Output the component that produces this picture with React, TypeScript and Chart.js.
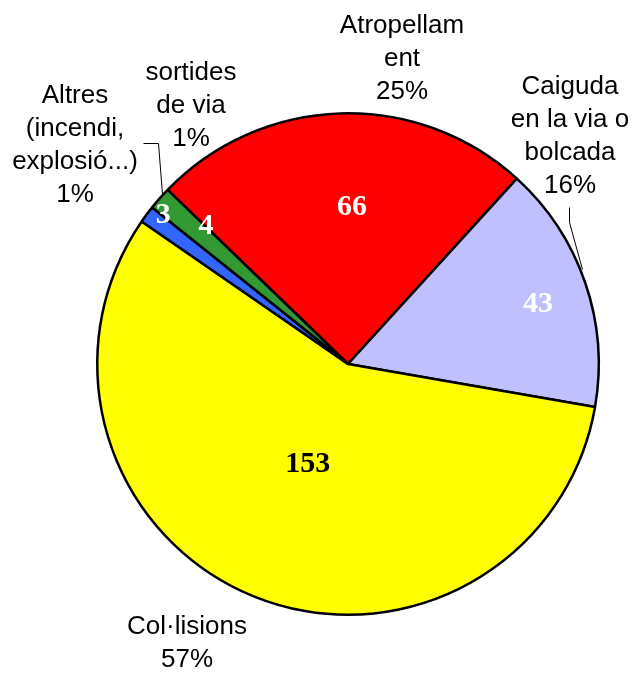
import React, { useEffect, useRef } from "react";
import { Chart, registerables } from "chart.js";

Chart.register(...registerables);

// ---- data ----
const categories: string[][] = [
  ["Atropellam", "ent"],
  ["Caiguda", "en la via o", "bolcada"],
  ["Col·lisions"],
  ["Altres", "(incendi,", "explosió...)"],
  ["sortides", "de via"],
];
const values: number[] = [66, 43, 153, 3, 4];
const sliceColors: string[] = ["#FF0000", "#C0C0FF", "#FFFF00", "#3366FF", "#339933"];
const valueTextColors: string[] = ["#FFFFFF", "#FFFFFF", "#000000", "#FFFFFF", "#FFFFFF"];

// ---- label placement (style) ----
// value labels: angle offset from slice mid (deg) and radius fraction
const valuePos = [
  { da: 3.3, f: 0.626 },
  { da: 1.4, f: 0.795 },
  { da: -0.4, f: 0.43 },
  { da: 2.2, f: 0.946 },
  { da: 2.9, f: 0.79 },
];
// outer labels: offset of first-line baseline centre from pie centre
const outerPos = [
  { dx: 54, dy: -331 },
  { dx: 222, dy: -270 },
  { dx: -161, dy: 270 },
  { dx: -273, dy: -261 },
  { dx: -157, dy: -284 },
];
// leader lines, relative to pie centre
const leaders: number[][][] = [
  [[221, -157], [221, -142], [234, -95]],
  [[-205, -221], [-190, -221], [-186, -170]],
];

const labelPlugin = {
  id: "pieLabels",
  afterDatasetsDraw(chart: any) {
    const ctx = chart.ctx as CanvasRenderingContext2D;
    const meta = chart.getDatasetMeta(0);
    const data = chart.data.datasets[0].data as number[];
    const total = data.reduce((a, b) => a + b, 0);
    let cx = 0, cy = 0;
    ctx.save();
    meta.data.forEach((arc: any, i: number) => {
      const p = arc.getProps(["x", "y", "startAngle", "endAngle", "outerRadius"], true);
      cx = p.x; cy = p.y;
      const mid = (p.startAngle + p.endAngle) / 2 + (valuePos[i].da * Math.PI) / 180;
      const r = p.outerRadius * valuePos[i].f;
      ctx.font = "bold 30px 'Liberation Serif', 'Times New Roman', serif";
      ctx.fillStyle = valueTextColors[i];
      ctx.textAlign = "center";
      ctx.textBaseline = "middle";
      ctx.fillText(String(data[i]), p.x + r * Math.cos(mid), p.y + r * Math.sin(mid));
    });
    // outer labels
    ctx.font = "26px 'Liberation Sans', Arial, sans-serif";
    ctx.fillStyle = "#000000";
    ctx.textAlign = "center";
    ctx.textBaseline = "alphabetic";
    const lh = 33;
    categories.forEach((lines, i) => {
      const pct = Math.round((data[i] / total) * 100) + "%";
      const all = [...lines, pct];
      all.forEach((t, k) => {
        ctx.fillText(t, cx + outerPos[i].dx, cy + outerPos[i].dy + k * lh);
      });
    });
    // leader lines
    ctx.strokeStyle = "#000000";
    ctx.lineWidth = 1;
    leaders.forEach((pts) => {
      ctx.beginPath();
      pts.forEach(([x, y], k) => {
        if (k === 0) ctx.moveTo(cx + x + 0.5, cy + y + 0.5);
        else ctx.lineTo(cx + x + 0.5, cy + y + 0.5);
      });
      ctx.stroke();
    });
    ctx.restore();
  },
};

export default function App() {
  const ref = useRef<HTMLCanvasElement | null>(null);
  useEffect(() => {
    if (!ref.current) return;
    const chart = new Chart(ref.current, {
      type: "pie",
      data: {
        labels: categories,
        datasets: [
          {
            data: values,
            backgroundColor: sliceColors,
            borderColor: "#000000",
            borderWidth: 2.5,
          },
        ],
      },
      options: {
        animation: false,
        responsive: false,
        rotation: 314,
        layout: { padding: { left: 96, top: 112, right: 34, bottom: 57 } },
        plugins: {
          legend: { display: false },
          tooltip: { enabled: false },
        },
      },
      plugins: [labelPlugin],
    });
    return () => chart.destroy();
  }, []);
  return (
    <div style={{ position: "fixed", left: 0, top: 0, width: 634, height: 673, background: "#fff" }}>
      <canvas ref={ref} width={634} height={673} />
    </div>
  );
}
